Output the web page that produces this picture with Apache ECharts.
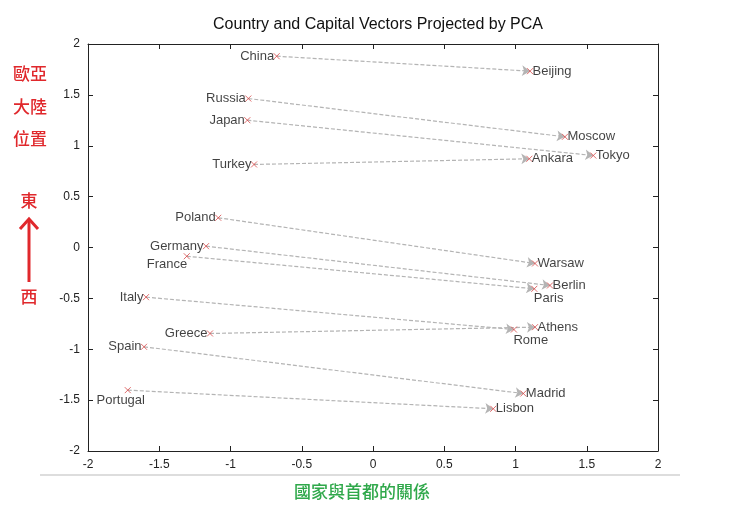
<!DOCTYPE html>
<html><head><meta charset="utf-8">
<script src="https://cdn.jsdelivr.net/npm/echarts@6/dist/echarts.min.js"></script>
<style>html,body{margin:0;padding:0;background:#fff}#c{width:731px;height:507px}</style>
</head><body><div id="c"></div>
<script>
var countries = ['China','Russia','Japan','Turkey','Poland','Germany','France','Italy','Greece','Spain','Portugal'];
var countryX = [-0.676,-0.875,-0.882,-0.835,-1.086,-1.172,-1.307,-1.593,-1.144,-1.607,-1.721];
var countryY = [1.880,1.464,1.251,0.816,0.292,0.013,-0.086,-0.488,-0.845,-0.976,-1.402];
var capitals = ['Beijing','Moscow','Tokyo','Ankara','Warsaw','Berlin','Paris','Rome','Athens','Madrid','Lisbon'];
var capitalX = [1.102,1.347,1.546,1.097,1.137,1.242,1.132,0.989,1.137,1.055,0.844];
var capitalY = [1.733,1.088,0.904,0.872,-0.157,-0.373,-0.406,-0.806,-0.783,-1.435,-1.585];

var labelOverride = {
  'France': {position:'left', offset:[6,8]},
  'Paris': {position:'right', offset:[-6,10]},
  'Rome': {position:'right', offset:[-6,11]},
  'Portugal': {position:'bottom', offset:[-7,-2]}
};
function pts(names, xs, ys, pos, dx){
  return names.map(function(n,i){
    var d = {name:n, value:[xs[i], ys[i]]};
    var o = labelOverride[n];
    d.label = o ? {position:o.position, offset:o.offset} : {position:pos, offset:[dx,0]};
    return d;
  });
}
var lineData = countries.map(function(n,i){
  return {coords:[[countryX[i],countryY[i]],[capitalX[i],capitalY[i]]]};
});
var xSym = 'path://M0,0L10,10M10,0L0,10';
var axisCommon = {
  min:-2, max:2, interval:0.5,
  axisLine:{show:true, onZero:false, lineStyle:{color:'#222', width:1}},
  axisTick:{show:true, inside:true, length:5, lineStyle:{color:'#222'}},
  splitLine:{show:false}
};
function fmt(v){ return String(v); }
var lblFont = {color:'#111', fontSize:13, fontFamily:'Liberation Sans, Arial'};
var chart = echarts.init(document.getElementById('c'));
chart.setOption({
  animation:false,
  backgroundColor:'#fff',
  title:{text:'Country and Capital Vectors Projected by PCA', left:373, top:12, textAlign:'center',
    textStyle:{fontFamily:'Liberation Sans, Arial', fontSize:16, fontWeight:'normal', color:'#111'}},
  grid:{left:88, right:73, top:44, bottom:56},
  xAxis:[
    Object.assign({type:'value', position:'bottom',
      axisLabel:{color:'#222', fontSize:12, fontFamily:'Liberation Sans, Arial', margin:8, formatter:fmt}}, axisCommon),
    Object.assign({type:'value', position:'top', axisLabel:{show:false}}, axisCommon)
  ],
  yAxis:[
    Object.assign({type:'value', position:'left',
      axisLabel:{color:'#222', fontSize:12, fontFamily:'Liberation Sans, Arial', margin:8, formatter:fmt}}, axisCommon),
    Object.assign({type:'value', position:'right', axisLabel:{show:false}}, axisCommon)
  ],
  series:[
    {type:'lines', coordinateSystem:'cartesian2d', xAxisIndex:0, yAxisIndex:0,
      symbol:['none','arrow'], symbolSize:8,
      lineStyle:{color:'#b4b4b4', width:1.2, type:[4,2], opacity:1},
      data:lineData, silent:true, z:2},
    {type:'scatter', xAxisIndex:0, yAxisIndex:0, symbol:xSym, symbolSize:6,
      itemStyle:{color:'none', borderColor:'#d84848', borderWidth:1},
      label:Object.assign({show:true, distance:0, formatter:'{b}'}, lblFont),
      data:pts(countries, countryX, countryY, 'left', 3), z:3},
    {type:'scatter', xAxisIndex:0, yAxisIndex:0, symbol:xSym, symbolSize:6,
      itemStyle:{color:'none', borderColor:'#d84848', borderWidth:1},
      label:Object.assign({show:true, distance:0, formatter:'{b}'}, lblFont),
      data:pts(capitals, capitalX, capitalY, 'right', -3), z:3}
  ],
  graphic:[
    {type:'text', x:30, y:74, style:{text:'歐亞', fill:'#e0282c', font:'500 17px "Noto Sans CJK TC"', textAlign:'center', textVerticalAlign:'middle'}},
    {type:'text', x:30, y:107, style:{text:'大陸', fill:'#e0282c', font:'500 17px "Noto Sans CJK TC"', textAlign:'center', textVerticalAlign:'middle'}},
    {type:'text', x:30, y:139, style:{text:'位置', fill:'#e0282c', font:'500 17px "Noto Sans CJK TC"', textAlign:'center', textVerticalAlign:'middle'}},
    {type:'text', x:29, y:201, style:{text:'東', fill:'#e0282c', font:'500 17px "Noto Sans CJK TC"', textAlign:'center', textVerticalAlign:'middle'}},
    {type:'text', x:29, y:297, style:{text:'西', fill:'#e0282c', font:'500 17px "Noto Sans CJK TC"', textAlign:'center', textVerticalAlign:'middle'}},
    {type:'line', shape:{x1:29, y1:282, x2:29, y2:220}, style:{stroke:'#e0282c', lineWidth:3}},
    {type:'polyline', shape:{points:[[20,229],[29,219],[38,229]]}, style:{stroke:'#e0282c', lineWidth:3, fill:'none'}},
    {type:'line', shape:{x1:40, y1:475, x2:680, y2:475}, style:{stroke:'#bbb', lineWidth:1}},
    {type:'text', x:362, y:492, style:{text:'國家與首都的關係', fill:'#2fa84a', font:'500 17px "Noto Sans CJK TC"', textAlign:'center', textVerticalAlign:'middle'}}
  ]
});
</script></body></html>
